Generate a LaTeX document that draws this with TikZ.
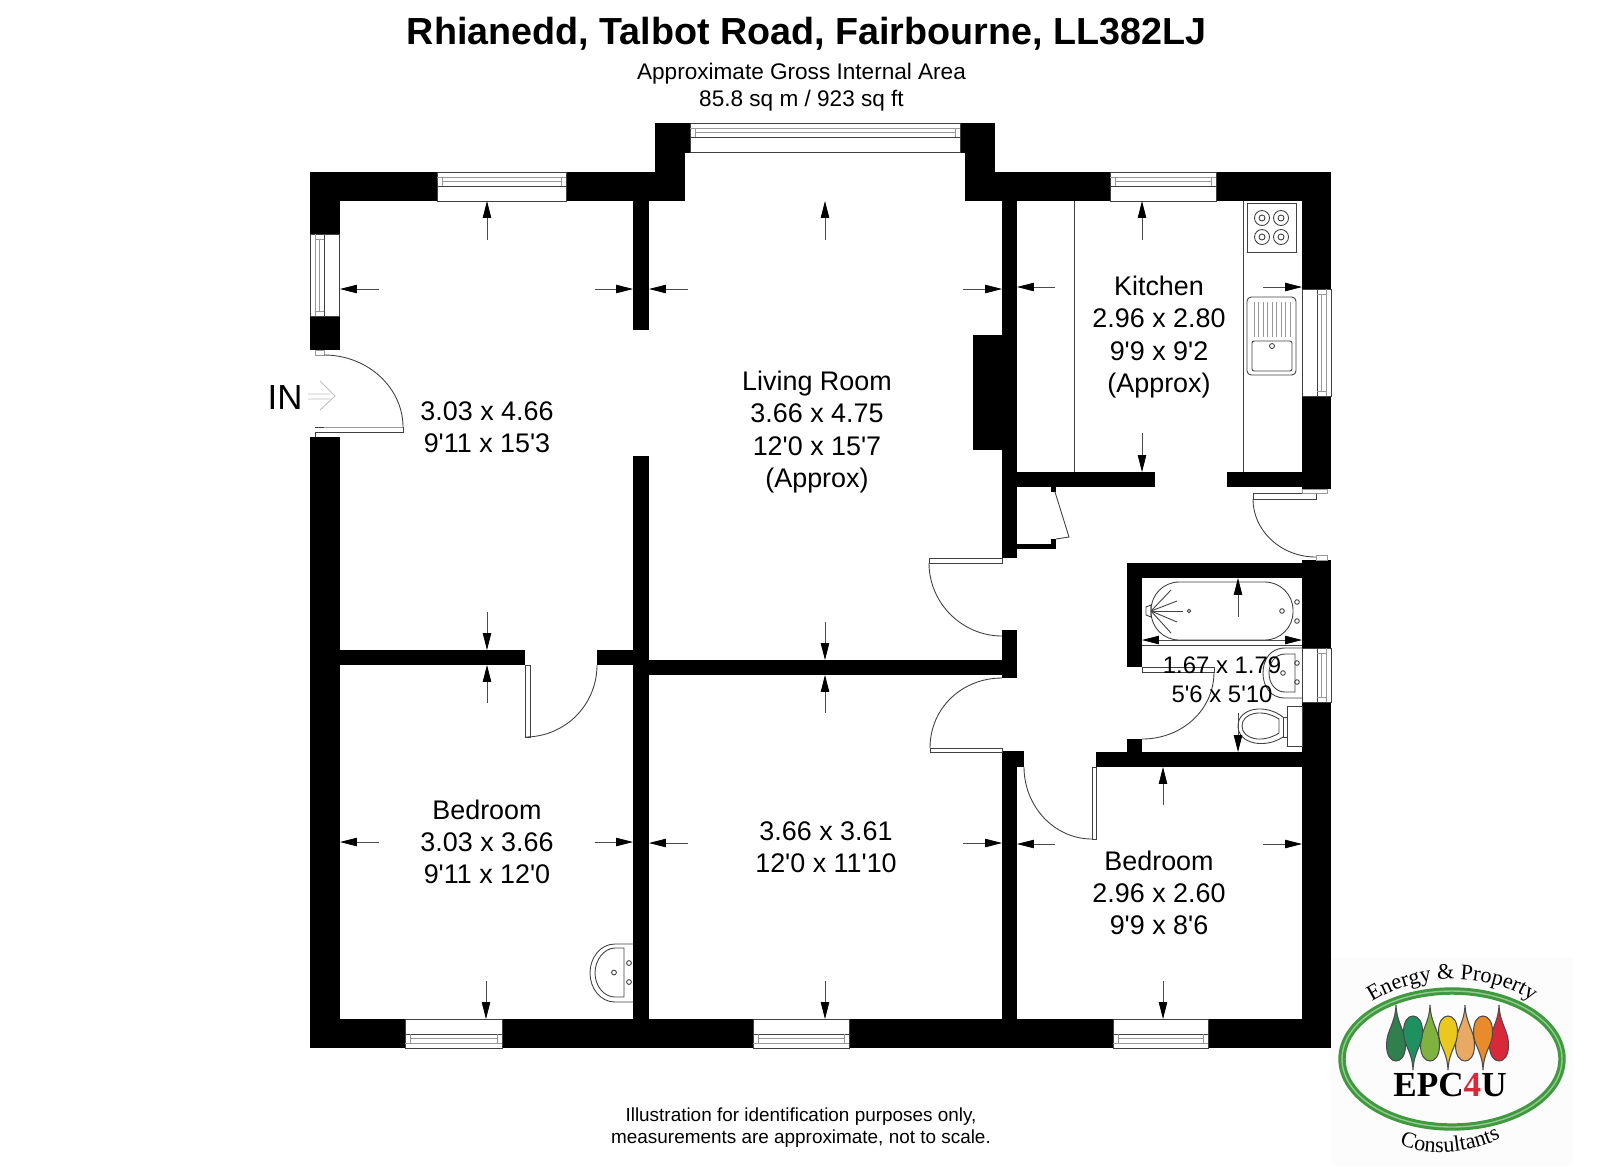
\documentclass[tikz,border=0pt]{standalone}
\usepackage{fontspec}
\setmainfont{Liberation Sans}
\newfontfamily\roomfont{Liberation Sans}
\newfontfamily\logofont{Liberation Serif}
\usetikzlibrary{arrows.meta,decorations.text}
\definecolor{ringgreen}{HTML}{3E9A3C}
\definecolor{dropone}{HTML}{2F7F4F}
\definecolor{droptwo}{HTML}{1F9060}
\definecolor{dropthree}{HTML}{7FB23E}
\definecolor{dropfour}{HTML}{EBC81E}
\definecolor{dropfive}{HTML}{E8A964}
\definecolor{dropsix}{HTML}{E98A2B}
\definecolor{dropseven}{HTML}{D8283A}

\begin{document}
\begin{tikzpicture}[x=0.01cm,y=-0.01cm,
  wall/.style={fill=black},
  thinline/.style={draw=black!75,line width=.25pt},
  paleline/.style={draw=black!40,line width=.25pt},
  dimline/.style={draw=black!70,line width=.2pt,-{Triangle[length=4.8pt,width=2.4pt,black]}},
  roomtext/.style={align=center,font=\roomfont\fontsize{7.65}{9.2}\selectfont,inner sep=0pt}]
\useasboundingbox (0,0) rectangle (1600,1166);

\node [font=\fontsize{10.72}{12}\selectfont\bfseries,inner sep=0pt] (title) at (806.5,34) {Rhianedd, Talbot Road, Fairbourne, LL382LJ};
\node [align=center,font=\fontsize{6.42}{7.75}\selectfont,inner sep=0pt] (area) at (801.5,87.5) {Approximate Gross Internal Area\\85.8 sq m / 923 sq ft};
\node [align=center,font=\fontsize{5.38}{6.3}\selectfont,inner sep=0pt] (footer) at (801,1128) {Illustration for identification purposes only,\\measurements are approximate, not to scale.};

\fill [wall] (310,172) rectangle (437,201);
\fill [wall] (566,172) rectangle (685,201);
\fill [wall] (655,123) rectangle (690,153);
\fill [wall] (655,153) rectangle (685,201);
\fill [wall] (960,123) rectangle (995,153);
\fill [wall] (965,153) rectangle (995,201);
\fill [wall] (965,172) rectangle (1110,201);
\fill [wall] (1216,172) rectangle (1331,201);
\fill [wall] (310,172) rectangle (340,234);
\fill [wall] (310,316) rectangle (340,350);
\fill [wall] (310,437) rectangle (340,1048);
\fill [wall] (1302,172) rectangle (1331,289);
\fill [wall] (1302,396) rectangle (1331,489);
\fill [wall] (1302,560) rectangle (1331,648);
\fill [wall] (1302,702) rectangle (1331,1048);
\fill [wall] (310,1019) rectangle (405,1048);
\fill [wall] (502,1019) rectangle (753,1048);
\fill [wall] (849,1019) rectangle (1113,1048);
\fill [wall] (1208,1019) rectangle (1331,1048);
\fill [wall] (633,201) rectangle (649,330);
\fill [wall] (633,456) rectangle (649,1019);
\fill [wall] (1002,201) rectangle (1017,558);
\fill [wall] (973,335) rectangle (1002,450);
\fill [wall] (1002,472) rectangle (1155,487);
\fill [wall] (1227,472) rectangle (1331,487);
\fill [wall] (1016,544) rectangle (1056,549);
\fill [wall] (1051,539) rectangle (1056,549);
\fill [wall] (1051,487) rectangle (1056,492);
\fill [wall] (340,650) rectangle (525,665);
\fill [wall] (597,650) rectangle (649,665);
\fill [wall] (649,660) rectangle (1017,675);
\fill [wall] (1002,630) rectangle (1017,678);
\fill [wall] (1002,751) rectangle (1024,767);
\fill [wall] (1002,751) rectangle (1017,1019);
\fill [wall] (1096,752) rectangle (1331,767);
\fill [wall] (1127,563) rectangle (1302,578);
\fill [wall] (1127,563) rectangle (1142,667);
\fill [wall] (1127,739) rectangle (1142,752);

\foreach \xa/\xb/\yo/\s in {437/566/172/1,690/960/123/1,1110/1216/172/1,405/502/1048/-1,753/849/1048/-1,1113/1208/1048/-1} {
  \draw [thinline] (\xa,\yo) rectangle (\xb,\yo+29*\s);
  \draw [thinline] (\xa,\yo+14*\s) -- (\xb,\yo+14*\s);
  \draw [paleline] (\xa,\yo+5*\s) -- (\xb,\yo+5*\s);
  \draw [paleline] (\xa+5,\yo+9.5*\s) -- (\xb-5,\yo+9.5*\s);
  \draw [paleline] (\xa+5,\yo+5*\s) -- (\xa+5,\yo+14*\s);
  \draw [paleline] (\xb-5,\yo+5*\s) -- (\xb-5,\yo+14*\s);
}
\foreach \ya/\yb/\xo/\s in {234/316/310/1,289/396/1331/-1,648/702/1331/-1} {
  \draw [thinline] (\xo,\ya) rectangle (\xo+29*\s,\yb);
  \draw [thinline] (\xo+14*\s,\ya) -- (\xo+14*\s,\yb);
  \draw [paleline] (\xo+5*\s,\ya) -- (\xo+5*\s,\yb);
  \draw [paleline] (\xo+9.5*\s,\ya+5) -- (\xo+9.5*\s,\yb-5);
  \draw [paleline] (\xo+5*\s,\ya+5) -- (\xo+14*\s,\ya+5);
  \draw [paleline] (\xo+5*\s,\yb-5) -- (\xo+14*\s,\yb-5);
}

\draw [paleline] (315,350) rectangle (324,355);
\draw [thinline] (324,355) .. controls (368,355) and (403,388) .. (403,427);
\draw [paleline] (324,427) -- (403,427);
\draw [thinline] (403,427) -- (403,432) -- (315,432) -- (315,437);
\draw [thinline] (315,427) -- (324,427);
\draw [thinline] (525,665) rectangle (530,737);
\draw [thinline] (525,737) .. controls (565,737) and (597,705) .. (597,665);
\draw [thinline] (929,558) rectangle (1002,563);
\draw [thinline] (929,563) .. controls (929,603) and (962,636) .. (1002,636);
\draw [thinline] (930,748) rectangle (1002,752);
\draw [thinline] (930,748) .. controls (930,708) and (962,678) .. (1002,678);
\draw [thinline] (1092,767) rectangle (1096,839);
\draw [thinline] (1024,767) .. controls (1024,806) and (1054,839) .. (1092,839);
\draw [thinline] (1142,667) rectangle (1214,672);
\draw [thinline] (1214,672) .. controls (1214,710) and (1182,739) .. (1142,739);
\draw [thinline] (1253,493) rectangle (1316,499);
\draw [paleline] (1302,489) rectangle (1327,493);
\draw [thinline] (1253,499) .. controls (1253,531) and (1281,557) .. (1316,557);
\draw [paleline] (1316,555) rectangle (1327,560);
\draw [thinline] (1055,492) -- (1069,537) -- (1056,539);

\draw [thinline] (1074,201) -- (1074,472);
\draw [thinline] (1243,201) -- (1243,472);
\draw [thinline] (1247,203) rectangle (1296,252);
\foreach \cx in {1262,1281} \foreach \cy in {218,237} {
  \draw [thinline] (\cx,\cy) circle (7.5);
  \draw [thinline] (\cx,\cy) circle (3);
}
\draw [thinline,rounded corners=1.2pt] (1247,297) rectangle (1296,375);
\draw [thinline,rounded corners=.6pt] (1252,341) rectangle (1292,371);
\draw [thinline] (1272,346) circle (2.5);
\foreach \rx in {0,...,8} \draw [paleline] (1254+\rx*4.5,302) -- (1254+\rx*4.5,337);

\draw [thinline] (1142,645) -- (1302,645);
\draw [thinline,rounded corners=8pt] (1151,582) rectangle (1293,640);
\draw [thinline] (1146,607) -- (1151,605) -- (1151,617) -- (1146,615) -- cycle;
\foreach \ex/\ey in {1171/590,1177/601,1183/611,1177/622,1171/633} \draw [thinline] (1151,611) -- (\ex,\ey);
\foreach \hx/\hy/\hr in {1189/611/1.7,1282/611/2.3,1297/602/2.3,1297/621/2.3,1283/673/2.3,1297/663/2.3,1297/682/2.3} \draw [thinline] (\hx,\hy) circle (\hr);
\draw [thinline] (1302,648) -- (1285,648) .. controls (1270,648) and (1263,660) .. (1263,673) .. controls (1263,686) and (1270,698) .. (1285,698) -- (1302,698);
\draw [thinline] (1295,654) -- (1285,654) .. controls (1275,654) and (1269,663) .. (1269,673) .. controls (1269,683) and (1275,692) .. (1285,692) -- (1295,692) -- cycle;
\draw [thinline] (1287,706) rectangle (1302,746);
\draw [thinline] (1283,717) rectangle (1287,737);
\draw [thinline] (1283,717) .. controls (1265,703) and (1238,708) .. (1238,726) .. controls (1238,744) and (1265,749) .. (1283,737);
\draw [thinline] (1279,719) .. controls (1262,708) and (1242,713) .. (1242,726) .. controls (1242,739) and (1262,744) .. (1279,733) -- cycle;

\draw [thinline] (633,944) -- (615,944) .. controls (600,944) and (590,958) .. (590,973) .. controls (590,988) and (600,1002) .. (615,1002) -- (633,1002);
\draw [thinline] (624,948) -- (615,948) .. controls (604,948) and (595,960) .. (595,973) .. controls (595,986) and (604,997) .. (615,997) -- (624,997) -- cycle;
\foreach \hx/\hy in {614/972.5,629/963,629/982} \draw [thinline] (\hx,\hy) circle (2.4);

\foreach \hx/\hy/\tx/\ty in {
  487/201/487/240,340/289/379/289,633/289/595/289,487/650/487/612,
  487/665/487/703,340/842/379/842,633/842/595/842,486/1019/486/981,
  825/201/825/240,649/289/688/289,1002/289/963/289,825/660/825/622,
  825/675/825/713,649/843/688/843,1002/843/963/843,825/1019/825/981,
  1142/201/1142/240,1017/287/1055/287,1302/287/1263/287,1142/472/1142/433,
  1163/767/1163/805,1017/844/1055/844,1302/844/1263/844,1163/1019/1163/981,
  1238/578/1238/617,1238/752/1238/713}
  \draw [dimline] (\tx,\ty) -- (\hx,\hy);
\draw [draw=black!70,line width=.2pt,{Triangle[length=4.8pt,width=2.4pt,black]}-{Triangle[length=4.8pt,width=2.4pt,black]}] (1142,640) -- (1302,640);

\node [font=\fontsize{9.9}{12}\selectfont,inner sep=0pt] (entry) at (285,398) {IN};
\draw [paleline,black!25] (308,394) -- (330,394) (308,399) -- (330,399) (320,381) -- (335,396) -- (320,410);

\node [roomtext] (hallroom) at (487,427) {3.03 x 4.66\\9'11 x 15'3};
\node [roomtext] (living) at (817,432) {Living Room\\3.66 x 4.75\\12'0 x 15'7\\(Approx)};
\node [roomtext] (kitchen) at (1159,337) {Kitchen\\2.96 x 2.80\\9'9 x 9'2\\(Approx)};
\node [roomtext,font=\roomfont\fontsize{6.8}{8.3}\selectfont] (bathroom) at (1222,680) {1.67 x 1.79\\5'6 x 5'10};
\node [roomtext] (bedleft) at (487,842) {Bedroom\\3.03 x 3.66\\9'11 x 12'0};
\node [roomtext] (bedmiddle) at (826,847) {3.66 x 3.61\\12'0 x 11'10};
\node [roomtext] (bedright) at (1159,893) {Bedroom\\2.96 x 2.60\\9'9 x 8'6};

\fill [black!1] (1331,958) rectangle (1573,1166);
\draw [ringgreen,line width=2.1pt] (1452,1059) ellipse (110 and 68);
\draw [ringgreen!55!white,line width=.4pt] (1452,1059) ellipse (110 and 68);
\foreach \x/\c in {1396/dropone,1430/dropthree,1465/dropfive,1499/dropseven}
  \draw [fill=\c,draw=black!70,line width=.3pt] (\x,1005) .. controls (\x+1,1025) and (\x+9.5,1030) .. (\x+9.5,1045) .. controls (\x+9.5,1056) and (\x+5,1061) .. (\x,1061) .. controls (\x-5,1061) and (\x-9.5,1056) .. (\x-9.5,1045) .. controls (\x-9.5,1030) and (\x-1,1025) .. (\x,1005);
\foreach \x/\c in {1413/droptwo,1448/dropfour,1483/dropsix}
  \draw [fill=\c,draw=black!70,line width=.3pt] (\x,1070) .. controls (\x+1,1050) and (\x+9.5,1046) .. (\x+9.5,1032) .. controls (\x+9.5,1021) and (\x+5,1016) .. (\x,1016) .. controls (\x-5,1016) and (\x-9.5,1021) .. (\x-9.5,1032) .. controls (\x-9.5,1046) and (\x-1,1050) .. (\x,1070);
\node [font=\logofont\bfseries\fontsize{10}{11}\selectfont,inner sep=0pt] (brand) at (1450,1085) {EPC\textcolor{dropseven}{4}U};
\path [decorate,decoration={text along path,text align=center,text={|\logofont\fontsize{6.3}{7}\selectfont|Energy {\&} Property}}] (1366,1006) .. controls (1410,973) and (1490,968) .. (1538,1006);
\path [decorate,decoration={text along path,text align=center,text={|\logofont\fontsize{6.3}{7}\selectfont|Consultants}}] (1395,1142) .. controls (1425,1158) and (1470,1155) .. (1505,1136);
\end{tikzpicture}
\end{document}
